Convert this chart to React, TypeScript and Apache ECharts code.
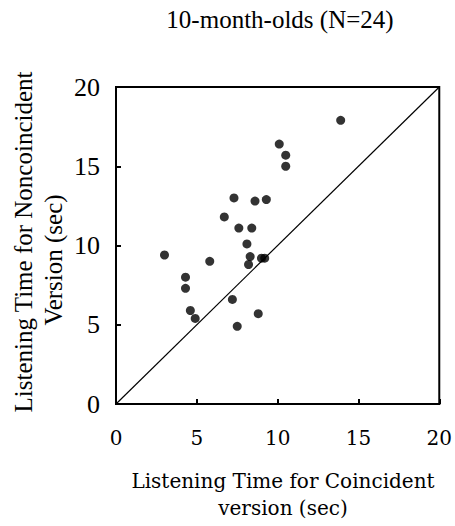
import React, { useEffect, useRef } from "react";
import * as echarts from "echarts";

const titleText = "10-month-olds (N=24)";
const xNameLines = ["Listening Time for Coincident", "version (sec)"];
const yNameLines = ["Listening Time for Noncoincident", "Version (sec)"];
const coincident = [13.9, 10.1, 10.5, 10.5, 7.3, 8.6, 9.3, 6.7, 7.6, 8.4, 8.1, 8.3, 8.2, 9.0, 9.2, 3.0, 5.8, 4.3, 4.3, 4.6, 4.9, 7.2, 8.8, 7.5];
const noncoincident = [17.9, 16.4, 15.7, 15.0, 13.0, 12.8, 12.9, 11.8, 11.1, 11.1, 10.1, 9.3, 8.8, 9.2, 9.2, 9.4, 9.0, 8.0, 7.3, 5.9, 5.4, 6.6, 5.7, 4.9];
const diagonal = [0, 20];
const axisMin = 0;
const axisMax = 20;
const tickStep = 5;

export default function App() {
  const ref = useRef<HTMLDivElement>(null);
  useEffect(() => {
    if (!ref.current) return;
    const chart = echarts.init(ref.current, null, { renderer: "svg" });
    const points = coincident.map((x, i) => [x, noncoincident[i]]);
    chart.setOption({
      animation: false,
      backgroundColor: "#ffffff",
      grid: {
        left: 116,
        right: 14,
        top: 87,
        bottom: 122,
        show: true,
        borderColor: "#000",
        borderWidth: 2,
      },
      xAxis: {
        type: "value",
        min: axisMin,
        max: axisMax,
        interval: tickStep,
        splitLine: { show: false },
        axisLine: { show: true, lineStyle: { color: "#000", width: 2 } },
        axisTick: { show: true, inside: true, length: 5, lineStyle: { color: "#000", width: 2 } },
        axisLabel: { color: "#000", fontSize: 20, fontFamily: "DejaVu Serif", margin: 24 },
      },
      yAxis: {
        type: "value",
        min: axisMin,
        max: axisMax,
        interval: tickStep,
        splitLine: { show: false },
        axisLine: { show: true, lineStyle: { color: "#000", width: 2 } },
        axisTick: { show: true, inside: true, length: 5, lineStyle: { color: "#000", width: 2 } },
        axisLabel: { color: "#000", fontSize: 26, fontFamily: "Liberation Serif", margin: 16 },
      },
      series: [
        {
          type: "line",
          data: diagonal.map((v) => [v, v]),
          showSymbol: false,
          symbol: "none",
          lineStyle: { color: "#000", width: 1.2 },
          silent: true,
        },
        {
          type: "scatter",
          data: points,
          symbol: "circle",
          symbolSize: 9,
          itemStyle: { color: "#000" },
        },
      ],
      graphic: [
        {
          type: "text",
          x: 280,
          y: 19,
          style: {
            text: titleText,
            fontFamily: "Liberation Serif",
            fontSize: 25,
            fill: "#000",
            textAlign: "center",
            textVerticalAlign: "middle",
          },
        },
        {
          type: "text",
          x: 283,
          y: 481,
          style: {
            text: xNameLines[0],
            fontFamily: "DejaVu Serif",
            fontSize: 20,
            fill: "#000",
            textAlign: "center",
            textVerticalAlign: "middle",
          },
        },
        {
          type: "text",
          x: 283,
          y: 508,
          style: {
            text: xNameLines[1],
            fontFamily: "DejaVu Serif",
            fontSize: 20,
            fill: "#000",
            textAlign: "center",
            textVerticalAlign: "middle",
          },
        },
        {
          type: "text",
          x: 23,
          y: 242,
          rotation: Math.PI / 2,
          style: {
            text: yNameLines[0],
            fontFamily: "Liberation Serif",
            fontSize: 25,
            fill: "#000",
            textAlign: "center",
            textVerticalAlign: "middle",
          },
        },
        {
          type: "text",
          x: 53,
          y: 260,
          rotation: Math.PI / 2,
          style: {
            text: yNameLines[1],
            fontFamily: "Liberation Serif",
            fontSize: 25,
            fill: "#000",
            textAlign: "center",
            textVerticalAlign: "middle",
          },
        },
      ],
    });
    return () => chart.dispose();
  }, []);
  return (
    <div
      ref={ref}
      style={{ position: "fixed", left: 0, top: 0, width: 455, height: 526 }}
    />
  );
}
